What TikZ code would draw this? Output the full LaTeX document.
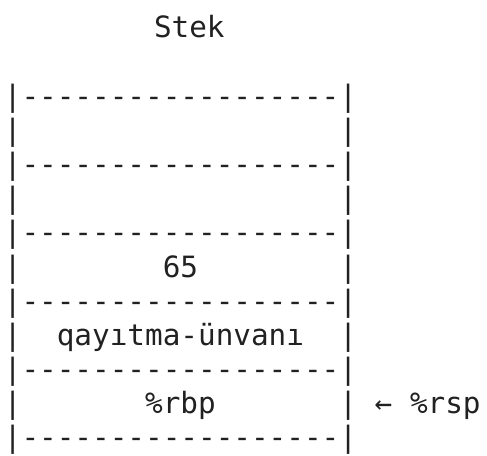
\documentclass[tikz,border=0pt]{standalone}
\usepackage{fontspec}
\setmonofont{DejaVu Sans Mono}
\begin{document}
\begin{tikzpicture}[x=1pt,y=-1pt,
  asciirow/.style={anchor=base west, inner sep=0pt, outer sep=0pt,
    font=\ttfamily\fontsize{29.33}{35}\selectfont, text=black!87}]
\useasboundingbox (0,0) rectangle (487,455);
\node[asciirow] (title) at (154,37.5) {Stek};
\node[asciirow] (r2)  at (3.87,106.0) {|------------------|};
\node[asciirow] (r3)  at (3.87,140.2) {|\ \ \ \ \ \ \ \ \ \ \ \ \ \ \ \ \ \ |};
\node[asciirow] (r4)  at (3.87,174.4) {|------------------|};
\node[asciirow] (r5)  at (3.87,208.6) {|\ \ \ \ \ \ \ \ \ \ \ \ \ \ \ \ \ \ |};
\node[asciirow] (r6)  at (3.87,242.8) {|------------------|};
\node[asciirow] (r7)  at (3.87,277.0) {|\ \ \ \ \ \ \ \ 65\ \ \ \ \ \ \ \ |};
\node[asciirow] (r8)  at (3.87,311.2) {|------------------|};
\node[asciirow] (r9)  at (3.87,345.4) {|\ \ qayıtma-ünvanı\ \ |};
\node[asciirow] (r10) at (3.87,379.6) {|------------------|};
\node[asciirow] (r11) at (3.87,413.8) {|\ \ \ \ \ \ \ \%rbp\ \ \ \ \ \ \ |\ ← \%rsp};
\node[asciirow] (r12) at (3.87,447.8) {|------------------|};
\end{tikzpicture}
\end{document}
